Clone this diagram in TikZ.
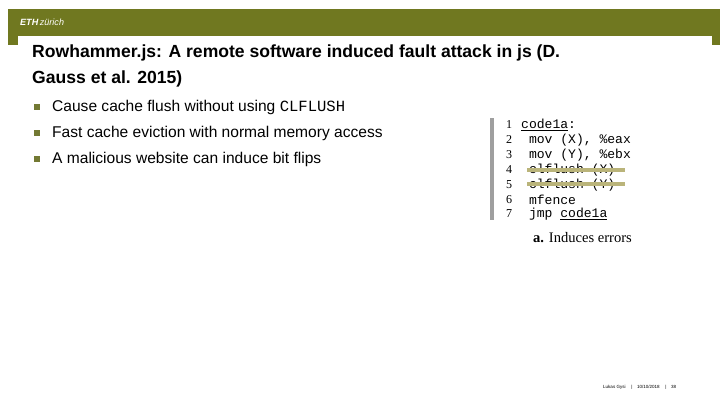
\documentclass[tikz,border=0pt]{standalone}
\usepackage{fontspec}
\setmainfont{Liberation Sans}
\newfontfamily\codefont{Liberation Mono}
\newfontfamily\numfont{Liberation Serif}
\usetikzlibrary{positioning}
\definecolor{ethgreen}{RGB}{112,120,32}
\definecolor{strike}{RGB}{186,180,122}
\begin{document}
\begin{tikzpicture}[x=0.35mm,y=-0.35mm,
  bullet/.style={anchor=west,font=\fontsize{15.5}{17}\selectfont,inner sep=0pt},
  bulletmark/.style={fill=ethgreen!80!gray,minimum size=5.5*0.35mm,inner sep=0pt},
  codeline/.style={anchor=west,font=\codefont\fontsize{13}{14}\selectfont,inner sep=0pt},
  lineno/.style={anchor=west,font=\numfont\fontsize{12}{13}\selectfont,inner sep=0pt}]
\useasboundingbox (0,0) rectangle (720,405);
% header band
\fill[ethgreen] (8,9) rectangle (720,36);
\fill[ethgreen] (8,36) rectangle (18,45);
\fill[ethgreen] (712,36) rectangle (720,45);
\node[anchor=west,text=white,font=\fontsize{9}{10}\selectfont,inner sep=0pt] (logo) at (20,22) {\textbf{\textit{ETH}}\,\textit{zürich}};
% title
\node[anchor=north west,align=left,font=\bfseries\fontsize{17.5}{25}\selectfont,inner sep=0pt] (title) at (32,45)
  {Rowhammer.js: A remote software induced fault attack in js (D.\\Gauss et al. 2015)};
% bullets
\foreach \y/\t [count=\i] in {107/{Cause cache flush without using {\codefont CLFLUSH}},
  133/{Fast cache eviction with normal memory access},
  159/{A malicious website can induce bit flips}}{
  \node[bulletmark] (mark\i) at (37,\y) {};
  \node[bullet] (item\i) at (52,\y) {\t};
}
% code listing
\fill[gray!75] (490,118) rectangle (494,220);
\foreach \y/\t [count=\i] in {125/{\underline{code1a}:},140/{\ mov (X), \%eax},155/{\ mov (Y), \%ebx},
  170/{\ clflush (X)},185/{\ clflush (Y)},200/{\ mfence},214/{\ jmp \underline{code1a}}}{
  \node[lineno] (num\i) at (506,\y) {\i};
  \node[codeline] (code\i) at (521,\y) {\t};
}
\draw[strike,line width=3.5pt] (527,170) -- (625,170);
\draw[strike,line width=3.5pt] (527,184) -- (625,184);
\node[anchor=west,font=\numfont\fontsize{14.5}{15}\selectfont,inner sep=0pt] (caption) at (533,238) {\textbf{a.} Induces errors};
% footer
\node[anchor=west,font=\fontsize{4.5}{5}\selectfont,inner sep=0pt] (footer) at (603,387)
  {Lukas Gysi \quad|\quad 10/10/2018 \quad|\quad 38};
\end{tikzpicture}
\end{document}
